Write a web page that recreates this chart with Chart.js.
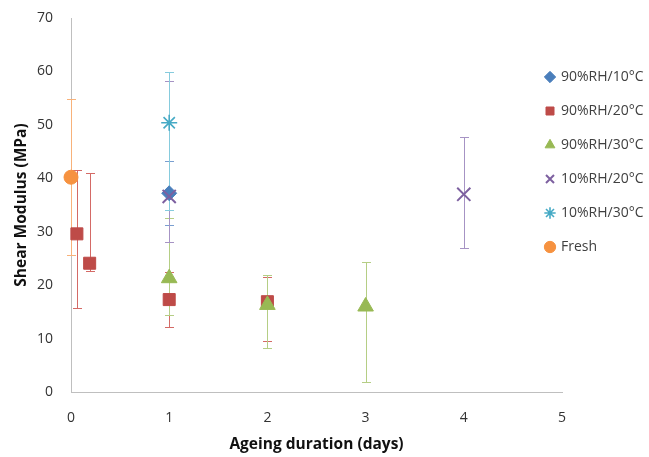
<!DOCTYPE html>
<html>
<head>
<meta charset="utf-8">
<script src="https://cdn.jsdelivr.net/npm/chart.js@4"></script>
<style>
  html, body { margin: 0; padding: 0; background: #fff; }
  #wrap { width: 649px; height: 457px; }
</style>
</head>
<body>
<div id="wrap"><canvas id="c"></canvas></div>
<script>
// series names, in legend order
var seriesNames = ['90%RH/10°C', '90%RH/20°C', '90%RH/30°C', '10%RH/20°C', '10%RH/30°C', 'Fresh']

// ageing duration (days), shear modulus (MPa) and error bar ends
var rh90t10Days = [1]
var rh90t10Mod = [37.2]
var rh90t10Low = [31.3]
var rh90t10High = [43.3]

var rh90t20Days = [0.06, 0.19, 1, 2]
var rh90t20Mod = [29.6, 24.1, 17.3, 16.9]
var rh90t20Low = [15.7, 22.6, 12.1, 9.5]
var rh90t20High = [41.5, 40.9, 22.5, 21.5]

var rh90t30Days = [1, 2, 3]
var rh90t30Mod = [21.3, 16.3, 16.0]
var rh90t30Low = [14.4, 8.3, 1.8]
var rh90t30High = [32.5, 21.9, 24.4]

var rh10t20Days = [1, 4]
var rh10t20Mod = [36.6, 37.0]
var rh10t20Low = [28.0, 27.0]
var rh10t20High = [58.3, 47.8]

var rh10t30Days = [1]
var rh10t30Mod = [50.4]
var rh10t30Low = [34.1]
var rh10t30High = [59.8]

var freshDays = [0]
var freshMod = [40.2]
var freshLow = [25.6]
var freshHigh = [54.8]

// axes
var xTicks = [0, 1, 2, 3, 4, 5]
var yTicks = [0, 10, 20, 30, 40, 50, 60, 70]

function points(days, mod, low, high) {
  return days.map(function(d, i) {
    return { x: d, y: mod[i], yMin: low[i], yMax: high[i] }
  })
}

var FONT = "'Open Sans', sans-serif"
var LEGEND_W = 87

// error bars drawn under all markers, through the chart scales
var errorBars = {
  id: 'errorBars',
  beforeDatasetsDraw: function(chart) {
    var ctx = chart.ctx
    var xs = chart.scales.x, ys = chart.scales.y
    chart.data.datasets.forEach(function(ds) {
      ctx.save()
      ctx.strokeStyle = ds.errorColor
      ctx.lineWidth = 1
      ds.data.forEach(function(p) {
        var px = Math.round(xs.getPixelForValue(p.x)) + 0.5
        var top = Math.round(ys.getPixelForValue(p.yMax)) + 0.5
        var bot = Math.round(ys.getPixelForValue(p.yMin)) + 0.5
        ctx.beginPath()
        ctx.moveTo(px, top); ctx.lineTo(px, bot)
        ctx.moveTo(px - 4.5, top); ctx.lineTo(px + 4.5, top)
        ctx.moveTo(px - 4.5, bot); ctx.lineTo(px + 4.5, bot)
        ctx.stroke()
      })
      ctx.restore()
    })
  }
}

// legend takes a narrow slot, then is widened to the left over the plot edge
var legendShift = {
  id: 'legendShift',
  beforeInit: function(chart) {
    var lg = chart.legend
    var fit = lg.fit
    lg.fit = function() {
      fit.call(this)
      this.width = LEGEND_W
    }
  },
  afterLayout: function(chart) {
    var lg = chart.legend
    lg.left -= 36
    lg.width = lg.right - lg.left
    lg.top += 32; lg.bottom += 32
  }
}

function series(i, days, mod, low, high, style, color, errColor, radius, bw) {
  return {
    label: seriesNames[i],
    data: points(days, mod, low, high),
    pointStyle: style,
    pointRadius: radius,
    pointHoverRadius: radius,
    pointBackgroundColor: color,
    pointBorderColor: color,
    pointBorderWidth: bw,
    errorColor: errColor,
    order: 6 - i,
    clip: false
  }
}

new Chart(document.getElementById('c'), {
  type: 'scatter',
  data: {
    datasets: [
      series(0, rh90t10Days, rh90t10Mod, rh90t10Low, rh90t10High, 'rectRot', '#4A7EBB', '#7A9FD0', 7.5, 1),
      series(1, rh90t20Days, rh90t20Mod, rh90t20Low, rh90t20High, 'rect', '#BE4B48', '#D46A66', 8.5, 1),
      series(2, rh90t30Days, rh90t30Mod, rh90t30Low, rh90t30High, 'triangle', '#98B954', '#B5CE85', 9, 1),
      series(3, rh10t20Days, rh10t20Mod, rh10t20Low, rh10t20High, 'crossRot', '#7D60A0', '#A693C4', 9.3, 2),
      series(4, rh10t30Days, rh10t30Mod, rh10t30Low, rh10t30High, 'star', '#46AAC5', '#86CBDD', 8, 1.6),
      series(5, freshDays, freshMod, freshLow, freshHigh, 'circle', '#F69240', '#F8B27A', 7, 1)
    ]
  },
  options: {
    responsive: true,
    maintainAspectRatio: false,
    animation: false,
    layout: { padding: { top: 18, right: 0, bottom: 0, left: 0 } },
    plugins: {
      tooltip: { enabled: false },
      legend: {
        position: 'right',
        align: 'start',
        labels: {
          usePointStyle: true,
          boxWidth: 8,
          boxHeight: 8,
          padding: 20,
          color: '#404040',
          font: { family: FONT, size: 14 },
          sort: function(a, b) { return a.datasetIndex - b.datasetIndex }
        }
      }
    },
    scales: {
      x: {
        type: 'linear',
        min: xTicks[0],
        max: xTicks[xTicks.length - 1],
        afterFit: function(s) { s.height = 65 },
        afterBuildTicks: function(s) { s.ticks = xTicks.map(function(v) { return { value: v } }) },
        grid: { display: false, drawTicks: false },
        border: { display: true, color: '#BFBFBF', width: 1 },
        ticks: { padding: 18, color: '#333', font: { family: FONT, size: 14 } },
        title: {
          display: true,
          text: 'Ageing duration (days)',
          color: '#111',
          font: { family: FONT, size: 15.5, weight: 'bold' },
          padding: { top: 0, bottom: 3 }
        }
      },
      y: {
        type: 'linear',
        min: yTicks[0],
        max: yTicks[yTicks.length - 1],
        afterFit: function(s) { s.width = 71; s.paddingTop = 0; s.paddingBottom = 0 },
        afterBuildTicks: function(s) { s.ticks = yTicks.map(function(v) { return { value: v } }) },
        grid: { display: false, drawTicks: false },
        border: { display: true, color: '#BFBFBF', width: 1 },
        ticks: { padding: 18, color: '#333', font: { family: FONT, size: 14 } },
        title: {
          display: true,
          text: 'Shear Modulus (MPa)',
          color: '#111',
          font: { family: FONT, size: 15.5, weight: 'bold' },
          padding: { top: 12, bottom: 0 }
        }
      }
    }
  },
  plugins: [errorBars, legendShift]
})
</script>
</body>
</html>
